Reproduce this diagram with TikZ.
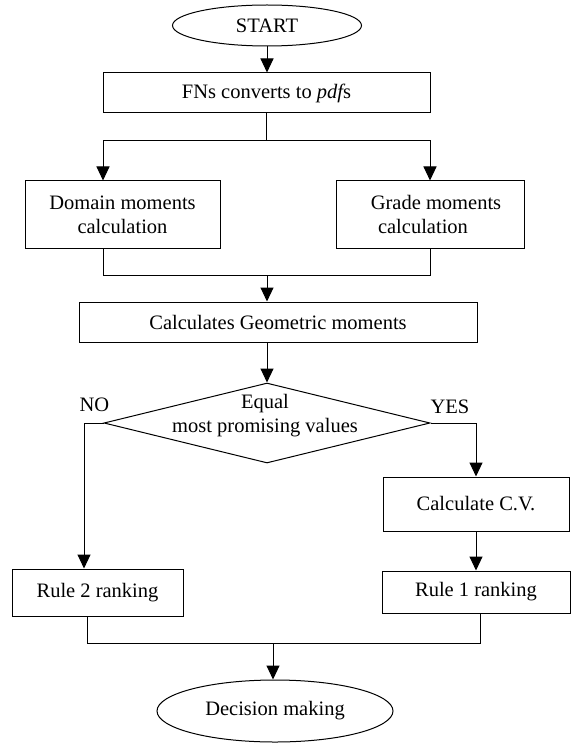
\documentclass[tikz,border=0pt]{standalone}
\usepackage{fontspec}
\setmainfont{Liberation Serif}
\usetikzlibrary{shapes.geometric,arrows.meta}
\begin{document}
\begin{tikzpicture}[x=1pt,y=-1pt, line width=1pt,
  font=\fontsize{20.5}{24}\selectfont,
  box/.style={draw, rectangle, inner sep=0pt, align=center},
  term/.style={draw, ellipse, inner sep=0pt},
  arr/.style={-{Triangle[length=14pt,width=13pt]}}]
\useasboundingbox (0,0) rectangle (572,743);
% nodes
\node[term, minimum width=189pt, minimum height=41pt] (start) at (267,25.5) {START};
\node[box, minimum width=327pt, minimum height=40pt] (fn) at (266.5,93) {FNs converts to {\itshape pdf}s};
\node[box, minimum width=195pt, minimum height=67pt] (dom) at (122.5,214.5) {Domain moments\\calculation};
\node[box, minimum width=188pt, minimum height=67pt] (grade) at (430,214.5) {\hspace*{12pt}Grade moments\\calculation\hspace*{14pt}};
\node[box, minimum width=398pt, minimum height=40pt] (geo) at (278,322) {Calculates Geometric moments};
\node[draw, diamond, minimum width=326pt, minimum height=80pt, inner sep=0pt] (dia) at (267,423) {};
\node[align=center, inner sep=0pt] (diatext) at (265,416) {Equal\\most promising values};
\node[box, minimum width=186pt, minimum height=54pt] (cv) at (476,504) {Calculate C.V.};
\node[box, minimum width=188pt, minimum height=42pt] (r1) at (476,592) {Rule 1 ranking};
\node[box, minimum width=171pt, minimum height=47pt] (r2) at (97.5,592.5) {Rule 2 ranking};
\node[term, minimum width=236pt, minimum height=62pt] (dec) at (275,711) {Decision making};
\node[inner sep=0pt] (no) at (94.5,405) {NO};
\node[inner sep=0pt] (yes) at (450,407) {YES};
% helper coordinates
\coordinate (a1) at (103,141);
\coordinate (a2) at (430,141);
\coordinate (b1) at (103,275);
\coordinate (b2) at (430,275);
\coordinate (bm) at (267,275);
\coordinate (c1) at (84,423);
\coordinate (d1) at (87,643);
\coordinate (d2) at (480,643);
\coordinate (dm) at (273,643);
% connectors
\draw[arr] (start.south) -- (start.south |- fn.north);
\draw (fn.south) -- (fn.south |- a1);
\draw[arr] (fn.south |- a1) -| (a1 |- dom.north);
\draw[arr] (fn.south |- a1) -| (a2 |- grade.north);
\draw (b1 |- dom.south) |- (b2) -- (b2 |- grade.south);
\draw[arr] (bm) -- (bm |- geo.north);
\draw[arr] (geo.south -| bm) -- (dia.north);
\draw[arr] (dia.west) -| (c1 |- r2.north);
\draw[arr] (dia.east) -| (cv.north);
\draw[arr] (cv.south) -- (r1.north);
\draw (d1 |- r2.south) |- (d2) -- (d2 |- r1.south);
\draw[arr] (dm) -- (dm |- dec.north);
\end{tikzpicture}
\end{document}
